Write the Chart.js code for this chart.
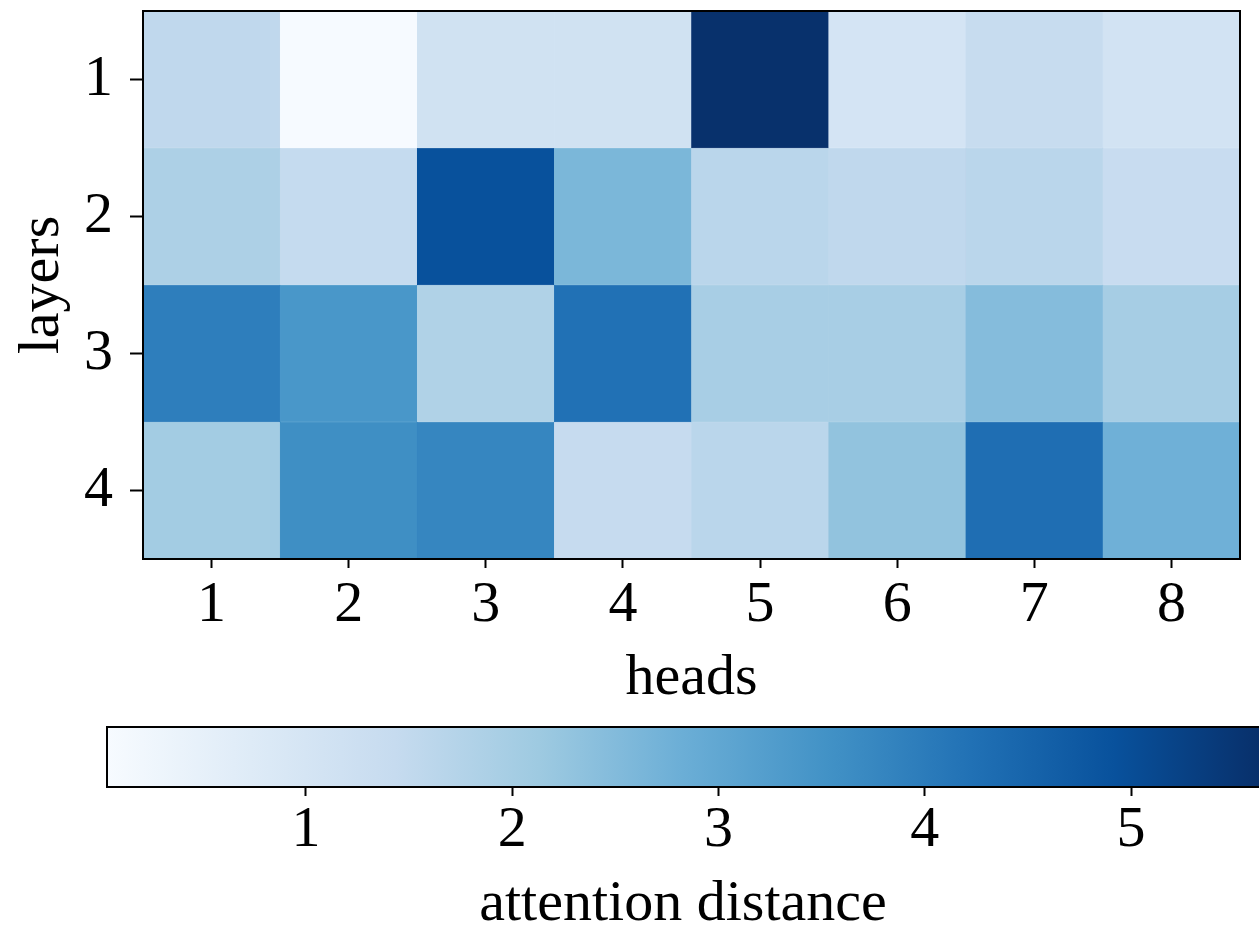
<!DOCTYPE html>
<html lang="en">
<head>
<meta charset="UTF-8">
<title>Attention distance per head and layer</title>
<script src="https://cdn.jsdelivr.net/npm/chart.js"></script>
<style>
  body { margin: 0; background: #fff; }
  #wrap { position: relative; width: 1259px; height: 927px; }
  #heat { position: absolute; left: 0; top: 0; }
  #cbar { position: absolute; left: 0; top: 700px; }
</style>
</head>
<body>
<div id="wrap">
  <canvas id="heat" width="1259" height="700"></canvas>
  <canvas id="cbar" width="1259" height="227"></canvas>
</div>
<script>
// heads along x, layers down y
const heads = ['1', '2', '3', '4', '5', '6', '7', '8'];
const layers = [1, 2, 3, 4];

// attention distance per head, one array per layer
const layer1 = [1.54, 0.06, 1.14, 1.14, 5.60, 1.02, 1.40, 1.08];
const layer2 = [1.87, 1.45, 4.92, 2.61, 1.64, 1.54, 1.64, 1.38];
const layer3 = [3.95, 3.41, 1.82, 4.22, 1.95, 1.95, 2.47, 1.99];
const layer4 = [2.05, 3.60, 3.78, 1.43, 1.65, 2.30, 4.28, 2.77];
const rows = [layer1, layer2, layer3, layer4];

// colour range and colorbar ticks
const vmin = 0.036;
const vmax = 5.62;
const cbTicks = [1, 2, 3, 4, 5];

// matplotlib "Blues"
const bluesStops = [
  [247, 251, 255], [222, 235, 247], [198, 219, 239], [158, 202, 225],
  [107, 174, 214], [66, 146, 198], [33, 113, 181], [8, 81, 156], [8, 48, 107]
];
function blues(v) {
  let t = (v - vmin) / (vmax - vmin);
  t = Math.max(0, Math.min(1, t));
  const p = t * 8;
  const i = Math.min(7, Math.floor(p));
  const f = p - i;
  const a = bluesStops[i], b = bluesStops[i + 1];
  const c = a.map((x, k) => Math.round(x + (b[k] - x) * f));
  return 'rgb(' + c.join(',') + ')';
}

const font = { family: '"Liberation Serif", "Times New Roman", serif', size: 58 };

// black frame around the plot area (colorbar runs off the right edge, so no right side there)
function frame(openRight) {
  return {
    id: 'frame',
    afterDraw(chart) {
      const { ctx, chartArea: a } = chart;
      ctx.save();
      ctx.strokeStyle = '#000';
      ctx.lineWidth = 2;
      ctx.beginPath();
      if (openRight) {
        ctx.moveTo(a.right + 2, a.top);
        ctx.lineTo(a.left, a.top);
        ctx.lineTo(a.left, a.bottom);
        ctx.lineTo(a.right + 2, a.bottom);
      } else {
        ctx.rect(a.left, a.top, a.right - a.left, a.bottom - a.top);
      }
      ctx.stroke();
      ctx.restore();
    }
  };
}

new Chart(document.getElementById('heat'), {
  type: 'bar',
  data: {
    labels: heads,
    datasets: layers.map((r, k) => ({
      label: 'layer ' + r,
      data: heads.map(() => [r - 0.5, r + 0.5]),
      backgroundColor: rows[k].map(blues),
      borderColor: rows[k].map(blues),
      borderWidth: 0.5,
      borderSkipped: false,
      barPercentage: 1,
      categoryPercentage: 1,
      grouped: false
    }))
  },
  options: {
    responsive: false,
    animation: false,
    layout: { padding: { top: 11, right: 19, left: 0, bottom: 0 } },
    plugins: { legend: { display: false }, tooltip: { enabled: false } },
    scales: {
      x: {
        type: 'category',
        offset: true,
        grid: { display: true, drawOnChartArea: false, offset: false, tickLength: 9, tickWidth: 2, color: '#000' },
        border: { display: false },
        ticks: { font: font, color: '#000', padding: 3, maxRotation: 0 },
        title: { display: true, text: 'heads', font: font, color: '#000', padding: { top: 0, bottom: -14 } },
        afterFit: s => { s.height = 141; }
      },
      y: {
        type: 'linear',
        min: 0.5,
        max: 4.5,
        reverse: true,
        afterBuildTicks: s => { s.ticks = layers.map(v => ({ value: v })); },
        grid: { display: true, drawOnChartArea: false, tickLength: 13, tickWidth: 2, color: '#000' },
        border: { display: false },
        ticks: { font: font, color: '#000', padding: 17, callback: v => String(v) },
        title: { display: true, text: 'layers', font: font, color: '#000', padding: { top: 8, bottom: 0 } },
        afterFit: s => { s.width = 143; s.paddingTop = 0; s.paddingBottom = 0; }
      }
    }
  },
  plugins: [frame(false)]
});

new Chart(document.getElementById('cbar'), {
  type: 'bar',
  data: {
    labels: ['attention distance'],
    datasets: [{
      data: [[vmin, vmax]],
      backgroundColor: c => {
        const ch = c.chart;
        if (!ch.chartArea) return null;
        const xs = ch.scales.x;
        const g = ch.ctx.createLinearGradient(xs.getPixelForValue(vmin), 0, xs.getPixelForValue(vmax), 0);
        bluesStops.forEach((s, i) => g.addColorStop(i / 8, 'rgb(' + s.join(',') + ')'));
        return g;
      },
      borderWidth: 0,
      barPercentage: 1,
      categoryPercentage: 1
    }]
  },
  options: {
    indexAxis: 'y',
    responsive: false,
    animation: false,
    layout: { padding: { top: 27, left: 107, right: 0, bottom: 0 } },
    plugins: { legend: { display: false }, tooltip: { enabled: false } },
    scales: {
      x: {
        type: 'linear',
        min: vmin,
        max: vmax,
        afterBuildTicks: s => { s.ticks = cbTicks.map(v => ({ value: v })); },
        grid: { display: true, drawOnChartArea: false, tickLength: 9, tickWidth: 2, color: '#000' },
        border: { display: false },
        ticks: { font: font, color: '#000', padding: 0, callback: v => String(v) },
        title: { display: true, text: 'attention distance', font: font, color: '#000', padding: { top: 0, bottom: -13 } },
        afterFit: s => { s.height = 140; }
      },
      y: { display: false }
    }
  },
  plugins: [frame(true)]
});
</script>
</body>
</html>
